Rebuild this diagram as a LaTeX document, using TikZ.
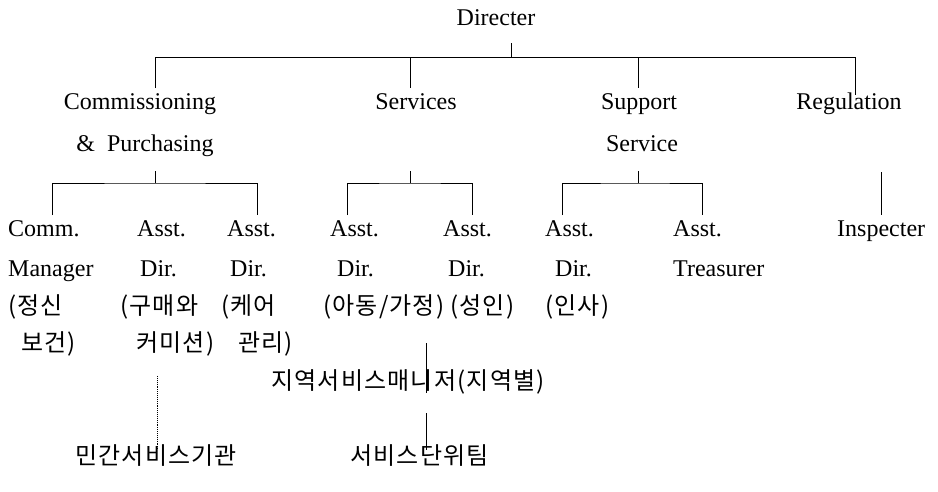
\documentclass[tikz,border=0pt]{standalone}
\usepackage{fontspec}
\setmainfont{Liberation Serif}
\newfontfamily\kr[LetterSpace=5]{Noto Sans CJK KR}
\begin{document}
\begin{tikzpicture}[x=1pt,y=-1pt,
  lbl/.style={inner sep=0pt, anchor=base, font=\fontsize{24}{24}\selectfont},
  lw/.style={inner sep=0pt, anchor=base west, font=\fontsize{24}{24}\selectfont},
  kw/.style={inner sep=0pt, anchor=base west, font=\kr\fontsize{24}{24}\selectfont},
  conn/.style={line width=0.9pt},
  dconn/.style={line width=0.9pt, densely dotted}]
\useasboundingbox (0,0) rectangle (938,491);
% level 1
\node[lbl] (dir) at (496,25) {Directer};
% level 2
\node[lbl] (cp1) at (140,109) {Commissioning};
\node[lbl] (cp2) at (145,151) {\&~~Purchasing};
\node[lbl] (sv) at (416,109) {Services};
\node[lbl] (ss1) at (639,109) {Support};
\node[lbl] (ss2) at (642,151) {Service};
\node[lbl] (rg) at (849,109) {Regulation};
% level 3, row 1
\node[lw] (a1) at (8,236) {Comm.};
\node[lw] (a2) at (137,236) {Asst.};
\node[lw] (a3) at (227,236) {Asst.};
\node[lw] (a4) at (330,236) {Asst.};
\node[lw] (a5) at (443,236) {Asst.};
\node[lw] (a6) at (545,236) {Asst.};
\node[lw] (a7) at (673,236) {Asst.};
\node[lw] (insp) at (837,236) {Inspecter};
% row 2
\node[lw] (b1) at (8,276) {Manager};
\node[lw] (b2) at (140,276) {Dir.};
\node[lw] (b3) at (230,276) {Dir.};
\node[lw] (b4) at (337,276) {Dir.};
\node[lw] (b5) at (448,276) {Dir.};
\node[lw] (b6) at (555,276) {Dir.};
\node[lw] (b7) at (673,276) {Treasurer};
% row 3 (Korean)
\node[kw] (c1) at (8,314) {(정신};
\node[kw] (c2) at (120,314) {(구매와};
\node[kw] (c3) at (221,314) {(케어};
\node[kw] (c4) at (323,314) {(아동/가정)};
\node[kw] (c5) at (450,314) {(성인)};
\node[kw] (c6) at (545,314) {(인사)};
% row 4
\node[kw] (d1) at (21,351) {보건)};
\node[kw] (d2) at (136,351) {커미션)};
\node[kw] (d3) at (238,351) {관리)};
% lower levels
\node[kw] (reg) at (271,389) {지역서비스매니저(지역별)};
\node[kw] (priv) at (75,464) {민간서비스기관};
\node[kw] (team) at (350,464) {서비스단위팀};
% coordinates
\coordinate (dt) at (511,43);
\coordinate (dj) at (511,57);
\coordinate (j1) at (155,57);
\coordinate (j2) at (410,57);
\coordinate (j3) at (638,57);
\coordinate (j4) at (855,57);
\coordinate (e1) at (155,88);
\coordinate (e2) at (410,88);
\coordinate (e3) at (638,88);
\coordinate (e4) at (855,95);
\coordinate (k1) at (155,171);
\coordinate (k2) at (410,171);
\coordinate (k3) at (638,171);
\coordinate (m1) at (155,183);
\coordinate (m2) at (410,183);
\coordinate (m3) at (638,183);
\coordinate (p1) at (52,215);
\coordinate (p2) at (257,215);
\coordinate (p3) at (347,215);
\coordinate (p4) at (472,215);
\coordinate (p5) at (562,215);
\coordinate (p6) at (702,215);
\coordinate (it) at (881,172);
\coordinate (ib) at (881,215);
\coordinate (r1) at (426,343);
\coordinate (r2) at (426,393);
\coordinate (r3) at (426,413);
\coordinate (r4) at (426,450);
\coordinate (q1) at (157,376);
\coordinate (q2) at (157,450);
% connectors
\draw[conn] (dt) -- (dj);
\draw[conn] (e1) -- (j1) -- (j4) -- (e4);
\draw[conn] (j2) -- (e2);
\draw[conn] (j3) -- (e3);
\draw[conn] (k1) -- (m1);
\draw[conn] (p1) |- (m1) -| (p2);
\draw[conn] (k2) -- (m2);
\draw[conn] (p3) |- (m2) -| (p4);
\draw[conn] (k3) -- (m3);
\draw[conn] (p5) |- (m3) -| (p6);
\draw[conn] (it) -- (ib);
\draw[conn] (r1) -- (r2);
\draw[conn] (r3) -- (r4);
\draw[dconn] (q1) -- (q2);
\end{tikzpicture}
\end{document}
